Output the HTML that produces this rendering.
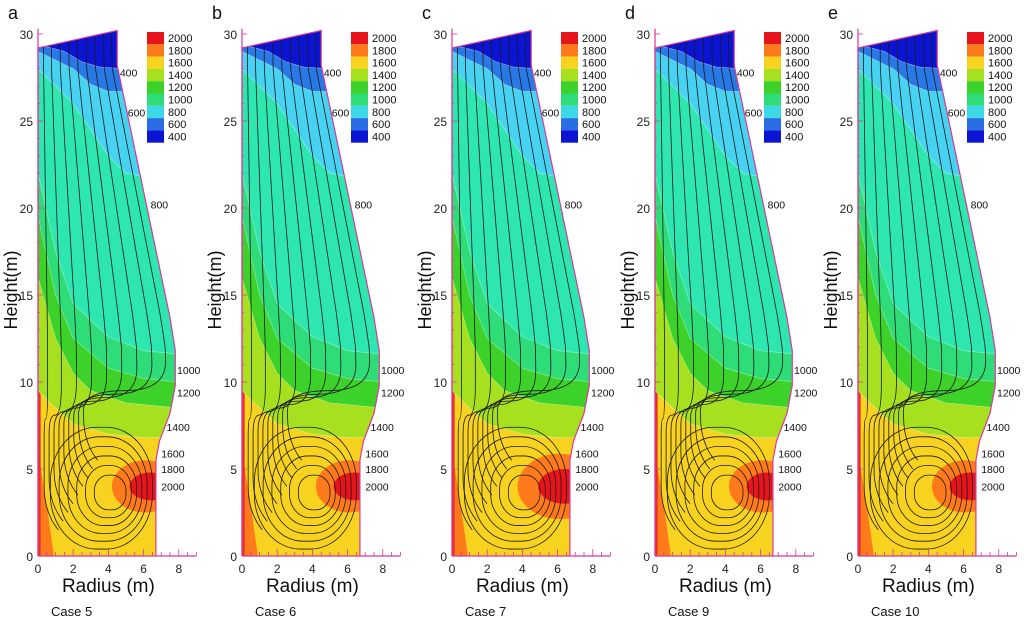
<!DOCTYPE html>
<html><head><meta charset="utf-8"><style>
html,body{margin:0;padding:0;background:#fff;}
svg{display:block;font-family:"Liberation Sans",sans-serif;}
</style></head><body>
<svg id="chart" width="1024" height="626" viewBox="0 0 1024 626" xmlns="http://www.w3.org/2000/svg"></svg>
<script>
// ---- data ----
const panelLetters = ["a","b","c","d","e"];
const caseNames = ["Case 5","Case 6","Case 7","Case 9","Case 10"];
const yTicks = [0,5,10,15,20,25,30];
const xTicks = [0,2,4,6,8];
const legendLevels = [2000,1800,1600,1400,1200,1000,800,600,400];
const legendColors = ["#e8141c","#ff7a1a","#f7d21e","#a6e01e","#3cd22a","#2edc78","#3cd8e6","#2a6ee6","#0a14d2"];
const hotSpotSize = [1.0,1.0,1.25,1.0,1.0];
// contour boundaries [r, h] in metres
const b1400 = [[0,9.5],[1,8.5],[2,7.6],[4,7.0],[6,6.8],[8,6.8]];
const b1200 = [[0,16],[1,12.5],[2,10.5],[3,9.5],[5,8.8],[8,8.5]];
const b1100 = [[0,19.5],[1,15],[2,12.5],[4,10.8],[6,10.2],[8,10]];
const b1000 = [[0,22],[1,17.5],[2,14.5],[4,12.6],[6,11.8],[8,11.6]];
const b800 = [[0,28],[1,27],[2,26],[3,24.5],[4,23],[5,22],[6,21.8],[7,22]];
const b600 = [[0,29],[1,28.5],[2,28],[3,27.1],[4,26.7],[6,26.7]];
const b400 = [[0,29.4],[1.5,29],[2.5,28.4],[3.5,28.1],[5,28]];
const boundaryLayers = [b1400,b1200,b1100,b1000,b800,b600,b400];
const layerColors = ["#a6e01e","#3cd22a","#2edc78","#2ee6b0","#46d2f0","#2878e6","#0a14d2"];
const contourLabels = [["400",4.65,27.8],["600",5.1,25.5],["800",6.4,20.2],["1000",7.9,10.7],["1200",7.9,9.4],["1400",7.3,7.4],["1600",7.0,5.9],["1800",7.0,5.0],["2000",7.0,4.0]];
// ---- layout ----
const X0 = [38,242,452,655,858];
const SX = 17.6, SY = 17.4, Y0 = 556;
const svg = document.getElementById('chart');
const NS = "http://www.w3.org/2000/svg";
function mk(tag, attrs, parent){const e=document.createElementNS(NS,tag);for(const k in attrs)e.setAttribute(k,attrs[k]);(parent||svg).appendChild(e);return e;}
const shape = [[0,0],[0,29.2],[4.5,30.2],[4.5,28.2],[7.5,13.7],[7.8,11.8],[7.8,9.8],[7.5,8.2],[6.9,6.6],[6.7,5.5],[6.7,0]];
function widthAt(h){
  for(let i=2;i<shape.length-1;i++){const a=shape[i],b=shape[i+1];const lo=Math.min(a[1],b[1]),hi=Math.max(a[1],b[1]);if(h>=lo&&h<=hi&&hi>lo){return a[0]+(b[0]-a[0])*(h-a[1])/(b[1]-a[1]);}}
  return 6.7;}
panelLetters.forEach((L,p)=>{
  const x0=X0[p];
  const px=r=>x0+r*SX, py=h=>Y0-h*SY;
  const g=mk('g',{});
  
  
  const cp=mk('clipPath',{id:'clip'+p},g);
  mk('path',{d:'M'+shape.map(s=>px(s[0])+','+py(s[1])).join(' L')+'Z'},cp);
  const field=mk('g',{'clip-path':'url(#clip'+p+')'},g);
  
  
  mk('rect',{x:px(0),y:py(31),width:9*SX,height:31*SY,fill:'#f7d21e'},field);
  mk('path',{d:'M'+px(0)+','+py(0)+' L'+px(0)+','+py(6)+' Q'+px(0.5)+','+py(3)+' '+px(0.9)+','+py(0)+'Z',fill:'#ff7a1a'},field);
  mk('rect',{x:px(0),y:py(11),width:0.15*SX,height:11*SY,fill:'#e8301c'},field);
  boundaryLayers.forEach((b,i)=>{
    let d='M'+px(-1)+','+py(b[0][1]);
    b.forEach(q=>d+=' L'+px(q[0])+','+py(q[1]));
    d+=' L'+px(10)+','+py(b[b.length-1][1])+' L'+px(10)+','+py(32)+' L'+px(-1)+','+py(32)+'Z';
    const e=mk('path',{d:d,fill:layerColors[i],stroke:'#ffffff','stroke-opacity':0.5,'stroke-width':0.6},field);
    
    
  });
  const k=hotSpotSize[p];
  mk('ellipse',{cx:px(6.1),cy:py(4),rx:1.9*k*SX,ry:1.5*k*SY,fill:'#ff7a1a'},field);
  mk('ellipse',{cx:px(6.4),cy:py(4),rx:1.2*k*SX,ry:0.8*k*SY,fill:'#e8141c'},field);
  // streamlines
  const sl=mk('g',{fill:'none',stroke:'#1a1a1a','stroke-width':0.8},field);
  
  
  [0.07,0.17,0.28,0.39,0.5,0.61,0.72,0.83,0.93].forEach((f,i)=>{
    const xs=0.35+i*0.28, h0=2.5+i*0.5, h1=7.6+i*0.2, h2=h1+2;
    const xt=f*widthAt(h2);
    let d='M'+px(xs+0.8)+','+py(h0-1)+' Q'+px(xs)+','+py(h0)+' '+px(xs)+','+py(h0+1.5)+' L'+px(xs)+','+py(h1-0.8)+' Q'+px(xs)+','+py(h1+0.3)+' '+px((xs+xt)/2)+','+py(h1+0.3)+' Q'+px(xt)+','+py(h1+0.3)+' '+px(xt)+','+py(h2);
    for(let h=Math.ceil(h2);h<=30;h+=1)d+=' L'+px(f*widthAt(h))+','+py(h);
    mk('path',{d:d},sl);
  });
  for(let i=0;i<6;i++){
    const xa=0.7+i*0.5, xb=6.5-i*0.3, ya=0.4+i*0.45, yb=7.4-i*0.55;
    mk('rect',{x:px(xa),y:py(yb),width:(xb-xa)*SX,height:(yb-ya)*SY,rx:(xb-xa)*SX*0.45,ry:(yb-ya)*SY*0.45},sl);
  }
  // border
  const bd=mk('path',{d:'M'+shape.map(s=>px(s[0])+','+py(s[1])).join(' L'),fill:'none',stroke:'#d8389a','stroke-width':1.2},g);
  
  
  // axes
  mk('line',{x1:px(0),y1:py(0),x2:px(9),y2:py(0),stroke:'#d8389a','stroke-width':1.2},g);
  mk('line',{x1:px(0),y1:py(0),x2:px(0),y2:py(30.3),stroke:'#d8389a','stroke-width':1.2},g);
  for(let h=0;h<=30;h++){mk('line',{x1:px(0),y1:py(h),x2:px(0)+(h%5?2:5),y2:py(h),stroke:'#d8389a','stroke-width':0.8},g);}
  for(let r=0;r<=9;r+=0.5){mk('line',{x1:px(r),y1:py(0),x2:px(r),y2:py(0)-(r%2?4:7),stroke:'#d8389a','stroke-width':0.8},g);}
  yTicks.forEach(t=>{const e=mk('text',{x:px(0)-5,y:py(t)+5,'font-size':12,'text-anchor':'end',fill:'#222'},g);e.textContent=t;
    });
  xTicks.forEach(t=>{const e=mk('text',{x:px(t),y:py(0)+17,'font-size':12,'text-anchor':'middle',fill:'#222'},g);e.textContent=t;
    });
  contourLabels.forEach(c=>{const e=mk('text',{x:px(c[1]),y:py(c[2])+4,'font-size':10.5,fill:'#111'},g);e.textContent=c[0];
    });
  // legend
  const lg=mk('g',{},g);
  
  
  legendLevels.forEach((v,i)=>{
    mk('rect',{x:px(0)+109,y:32+i*12.3,width:17,height:12.3,fill:legendColors[i]},lg);
    const e=mk('text',{x:px(0)+130,y:32+i*12.3+10,'font-size':11,fill:'#111'},lg);e.textContent=v;
    
  });
  let e=mk('text',{x:0,y:0,'font-size':18,'text-anchor':'middle',fill:'#111',transform:'translate('+(px(0)-21)+',290) rotate(-90)'},g);e.textContent='Height(m)';
  
  e=mk('text',{x:px(4),y:592,'font-size':19,'text-anchor':'middle',fill:'#111'},g);e.textContent='Radius (m)';
  
  e=mk('text',{x:px(0)+13,y:616,'font-size':13,fill:'#111'},g);e.textContent=caseNames[p];
  
  e=mk('text',{x:px(0)-30,y:19,'font-size':18,fill:'#111'},g);e.textContent=L;
  
});
</script>
</body></html>
